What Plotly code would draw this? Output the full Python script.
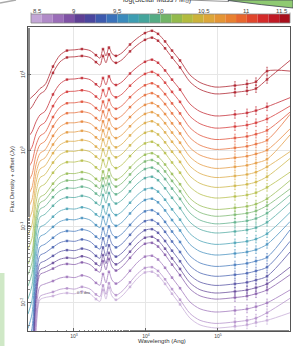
import numpy as np
import plotly.graph_objects as go

# ---------------- data ----------------
wavelength_ang = [230, 261, 297, 337, 396, 511, 640, 800, 1030, 1290, 1670, 2020, 2300,
                  2530, 2780, 3060, 3370, 3830, 4640, 6000, 7740, 9680, 12100, 14700,
                  18400, 23000, 29700, 40800, 56200, 90900, 172000, 253000, 337000,
                  480000, 1000000]
# SED shape (dex relative to the 1.2 micron peak) for the most / least massive stacks
shape_high_mass = [-0.92, -0.87, -0.82, -0.76, -0.71, -0.47, -0.32, -0.26, -0.25, -0.24,
                   -0.26, -0.32, -0.36, -0.24, -0.33, -0.22, -0.30, -0.33, -0.29, -0.18,
                   -0.09, -0.03, 0.0, -0.04, -0.14, -0.26, -0.39, -0.58, -0.68, -0.74,
                   -0.72, -0.70, -0.67]
shape_low_mass = [-2.10, -1.84, -0.79, -0.37, -0.34, -0.32, -0.29, -0.28, -0.29, -0.26,
                  -0.29, -0.36, -0.39, -0.24, -0.36, -0.21, -0.32, -0.37, -0.32, -0.20,
                  -0.08, -0.01, 0.0, -0.05, -0.16, -0.29, -0.43, -0.61, -0.70, -0.74,
                  -0.72, -0.70, -0.67]
log_mass = [8.5, 8.625, 8.75, 8.875, 9.0, 9.125, 9.25, 9.375, 9.5, 9.625, 9.75, 9.875,
            10.0, 10.125, 10.25, 10.375, 10.5, 10.625, 10.75, 10.875, 11.0, 11.125,
            11.25, 11.375, 11.5]
peak_log_flux = [-1.59, -1.53, -1.38, -1.21, -1.13, -1.03, -0.91, -0.78, -0.63, -0.49,
                 -0.34, -0.22, -0.12, -0.03, 0.12, 0.26, 0.39, 0.51, 0.63, 0.76, 0.89,
                 1.04, 1.20, 1.49, 1.58]
fir_480k = [-0.64, -0.60, -0.62, -0.62, -0.62, -0.62, -0.62, -0.62, -0.60, -0.60, -0.60,
            -0.60, -0.60, -0.60, -0.60, -0.60, -0.60, -0.62, -0.62, -0.62, -0.62, -0.62,
            -0.62, -0.55, -0.53]
fir_1m = [-0.54, -0.41, -0.45, -0.42, -0.40, -0.30, -0.28, -0.26, -0.30, -0.32, -0.34,
          -0.36, -0.38, -0.36, -0.40, -0.36, -0.40, -0.30, -0.34, -0.28, -0.38, -0.45,
          -0.50, -0.30, -0.53]
marker_idx = [5, 7, 9, 11, 13, 15, 17, 19, 21, 22, 23, 24, 25, 26, 30, 31, 32, 33]
fir_err_dex = 0.05

band_colors = ["#c3a6d6", "#b08ac8", "#9a6db8", "#7f52a5", "#5e3f94", "#4a469e",
               "#3d5aae", "#3a72ba", "#3a8abc", "#3d9db2", "#45a59c", "#55ac84",
               "#72b466", "#93ba4c", "#b2bb3e", "#cbb23a", "#dca63a", "#e49535",
               "#e88030", "#e7662e", "#e0462c", "#d42b2a", "#c01a25", "#a80f1c"]
cbar_min, cbar_max = 8.5, 11.5
cbar_ticks = [8.5, 9, 9.5, 10, 10.5, 11, 11.5]
x_ticks = [1e3, 1e4, 1e5, 1e6]
x_ticktext = ["10<sup>3</sup>", "10<sup>4</sup>", "10<sup>5</sup>", "10<sup>6</sup>"]
y_ticks = [0.01, 0.1, 1, 10]
y_ticktext = ["10<sup>-2</sup>", "10<sup>-1</sup>", "10<sup>0</sup>", "10<sup>1</sup>"]

# ---------------- layout geometry ----------------
W, H = 293, 346
L, R, T, B = 28, 3, 27, 15
PW, PH = W - L - R, H - T - B

def px2x(px):
    return (px - L) / PW

def px2y(py):
    return (H - B - py) / PH

fig = go.Figure()
wl = np.array(wavelength_ang, dtype=float)
hi = np.array(shape_high_mass)
lo = np.array(shape_low_mass)

for i, m in enumerate(log_mass):
    w = (m - 8.5) / 3.0
    shape = list((1 - w) * lo + w * hi) + [fir_480k[i], fir_1m[i]]
    logf = peak_log_flux[i] + np.array(shape)
    flux = 10 ** logf
    band = min(int((m - cbar_min) / 0.125 + 1e-6), len(band_colors) - 1)
    col = band_colors[band]
    fig.add_trace(go.Scatter(x=wl, y=flux, mode="lines",
                             line=dict(color=col, width=1, shape="spline", smoothing=0.8),
                             opacity=0.7, hoverinfo="skip", showlegend=False))
    mx = wl[marker_idx]
    my = flux[marker_idx]
    up = np.array([my[k] * (10 ** fir_err_dex - 1) if marker_idx[k] >= 30 else 0 for k in range(len(marker_idx))])
    dn = np.array([my[k] * (1 - 10 ** -fir_err_dex) if marker_idx[k] >= 30 else 0 for k in range(len(marker_idx))])
    fig.add_trace(go.Scatter(x=mx, y=my, mode="markers",
                             marker=dict(symbol="square", size=2.5, color=col, line=dict(width=0)),
                             error_y=dict(type="data", array=up, arrayminus=dn, color=col, thickness=0.6, width=1),
                             opacity=0.75, hoverinfo="skip", showlegend=False))

fig.update_layout(
    width=W, height=H, autosize=False,
    margin=dict(l=L, r=R, t=T, b=B, pad=0),
    paper_bgcolor="white", plot_bgcolor="white",
    font=dict(family="Liberation Sans", color="#333"),
    xaxis=dict(type="log", range=[np.log10(230), 6.0], tickvals=x_ticks, ticktext=x_ticktext,
               tickfont=dict(size=5, color="#444"), ticks="inside", ticklen=3, tickcolor="#666",
               showgrid=True, gridcolor="#e6e6e6", gridwidth=0.8, zeroline=False, automargin=False,
               showline=True, linecolor="#555", linewidth=1, mirror=True,
               minor=dict(ticks="inside", ticklen=1.5, tickcolor="#888", showgrid=False)),
    yaxis=dict(type="log", range=[-2.37, 1.63], tickvals=y_ticks, ticktext=y_ticktext, tickangle=-90,
               tickfont=dict(size=5, color="#444"), ticks="inside", ticklen=3, tickcolor="#666",
               showgrid=True, gridcolor="#e6e6e6", gridwidth=0.8, zeroline=False, automargin=False,
               showline=True, linecolor="#555", linewidth=1, mirror=True,
               minor=dict(ticks="inside", ticklen=1.5, tickcolor="#888", showgrid=False)),
)

# colour bar drawn as discrete bands
cb_x0, cb_x1, cb_y0, cb_y1 = 31, 290, 14, 23
n = len(band_colors)
for k, c in enumerate(band_colors):
    fig.add_shape(type="rect", xref="paper", yref="paper",
                  x0=px2x(cb_x0 + (cb_x1 - cb_x0) * k / n), x1=px2x(cb_x0 + (cb_x1 - cb_x0) * (k + 1) / n),
                  y0=px2y(cb_y1), y1=px2y(cb_y0), fillcolor=c, line=dict(width=0))
fig.add_shape(type="rect", xref="paper", yref="paper", x0=px2x(cb_x0), x1=px2x(cb_x1),
              y0=px2y(cb_y1), y1=px2y(cb_y0), line=dict(color="#888", width=0.8))
for t in cbar_ticks:
    tx = cb_x0 + (cb_x1 - cb_x0) * (t - cbar_min) / (cbar_max - cbar_min)
    fig.add_annotation(text=f"{t:g}", xref="paper", yref="paper", x=px2x(tx), y=px2y(10.5),
                       xanchor="right" if t == cbar_max else ("left" if t == cbar_min else "center"),
                       yanchor="middle", showarrow=False, font=dict(size=6, color="#444"))
    fig.add_shape(type="line", xref="paper", yref="paper", x0=px2x(tx), x1=px2x(tx),
                  y0=px2y(cb_y0), y1=px2y(cb_y0 - 1.5), line=dict(color="#666", width=0.6))

fig.add_annotation(text="Flux Density + offset (Jy)", xref="paper", yref="paper", x=px2x(12), y=px2y(179),
                   textangle=-90, showarrow=False, font=dict(size=6, color="#333"), xanchor="center", yanchor="middle")
fig.add_annotation(text="Wavelength (Ang)", xref="paper", yref="paper", x=px2x(162), y=px2y(341),
                   showarrow=False, font=dict(size=6, color="#333"), xanchor="center", yanchor="middle")
fig.add_annotation(text="log(Stellar Mass / M<sub>⊙</sub>)", xref="paper", yref="paper", x=px2x(157), y=px2y(0.5),
                   showarrow=False, font=dict(size=7, color="#333"), xanchor="center", yanchor="middle")
fig.add_annotation(text="0.5 dex", xref="paper", yref="paper", x=px2x(83), y=px2y(292),
                   showarrow=False, font=dict(size=4, color="#555"), xanchor="center", yanchor="middle")

# fragments of neighbouring panels
fig.add_shape(type="rect", xref="paper", yref="paper", x0=px2x(0), x1=px2x(4.5), y0=px2y(346), y1=px2y(273),
              fillcolor="#cfe8c6", line=dict(width=0))
fig.add_shape(type="path", xref="paper", yref="paper",
              path=f"M {px2x(228)} {px2y(0)} L {px2x(293)} {px2y(0)} L {px2x(293)} {px2y(8)} "
                   f"Q {px2x(262)} {px2y(5)} {px2x(228)} {px2y(0.5)} Z",
              fillcolor="#8fca72", line=dict(color="#445", width=0.8))
fig.add_shape(type="line", xref="paper", yref="paper", x0=px2x(188), y0=px2y(0), x1=px2x(229), y1=px2y(1.5),
              line=dict(color="#777", width=0.8))
fig.add_shape(type="path", xref="paper", yref="paper",
              path=f"M {px2x(0)} {px2y(3)} Q {px2x(8)} {px2y(1.5)} {px2x(16)} {px2y(0)}",
              line=dict(color="#aaa", width=1.5))

fig.write_html("out.html", config={"displayModeBar": False},
               post_script="document.body.style.margin='0';document.body.style.overflow='hidden';")
